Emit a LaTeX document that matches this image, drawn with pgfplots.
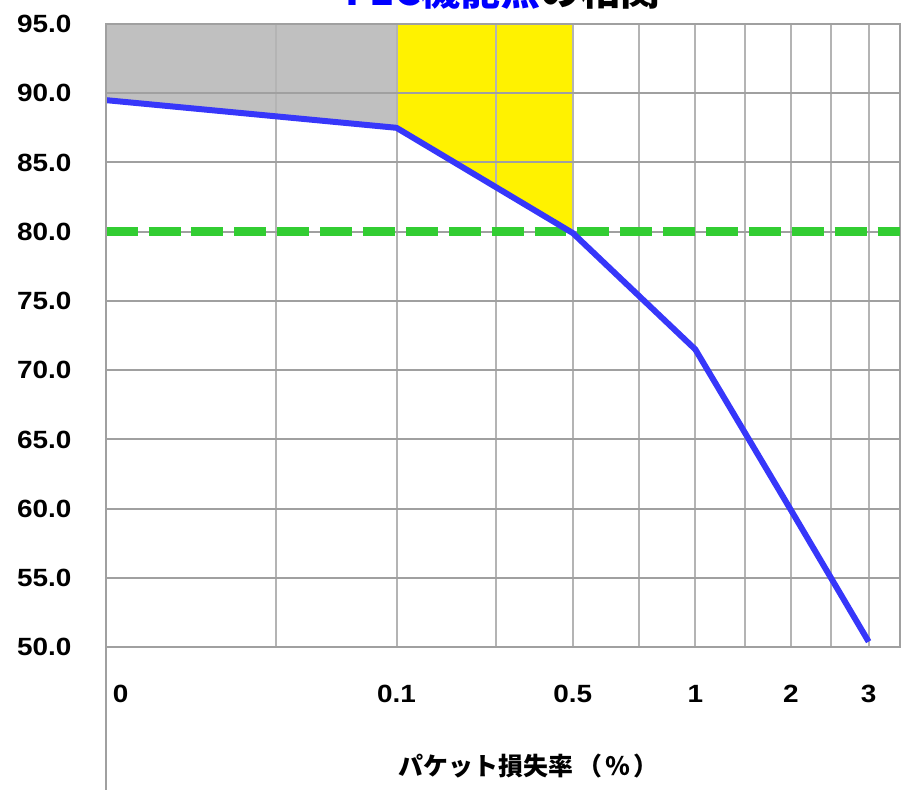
\documentclass[border=0pt]{standalone}
\usepackage{pgfplots}
\pgfplotsset{compat=1.18}
\usepackage{fontspec}
\setmainfont{Liberation Sans}
\newfontfamily\numfont{Liberation Sans}[FakeStretch=1.12]
\newfontfamily\jp{Noto Sans CJK JP}
\definecolor{lineblue}{RGB}{55,55,250}
\definecolor{dgreen}{RGB}{50,205,50}
\definecolor{fillgray}{RGB}{192,192,192}
\definecolor{vgrid}{RGB}{180,180,180}
\definecolor{hgrid}{RGB}{160,160,160}
\pgfplotsset{myaxis/.style={
  at={(53pt,-12pt)}, anchor=north west,
  scale only axis, width=398pt, height=312.5pt,
  xmin=0, xmax=797, ymin=50, ymax=95,
  no markers,
}}
\tikzset{xlab/.style={font=\numfont\bfseries\fontsize{12.5}{15}\selectfont, anchor=base, yshift=-27.5pt, inner sep=0pt}}
\begin{document}
\begin{tikzpicture}
\path (0,0) rectangle (452pt,-396pt);
\begin{scope}
\clip (0,0) rectangle (452pt,-20pt);
\node[overlay, anchor=base, font=\jp\bfseries\fontsize{20}{24}\selectfont, inner sep=0pt] at (252pt,-3pt) {\textcolor{blue}{FEC機能無}の相関};
\end{scope}
\begin{axis}[myaxis, hide axis]
\addplot[fill=fillgray, draw=none] coordinates {(0,95) (0,89.5) (292,87.5) (292,95) (0,95)};
\addplot[fill=yellow, draw=none] coordinates {(292,95) (292,87.5) (469,79.9) (469,95) (292,95)};
\end{axis}
\begin{axis}[myaxis,
  xtick={0,171,292,392,469,535,592,642,688,728,766,797},
  xticklabels={},
  xticklabel style={overlay, inner sep=0pt},
  ytick={50,55,60,65,70,75,80,85,90,95},
  major tick length=0pt,
  grid=major,
  x grid style={vgrid, line width=1pt},
  y grid style={hgrid, line width=1pt},
  axis line style={hgrid, line width=1pt},
  /pgf/number format/fixed,
  /pgf/number format/fixed zerofill,
  /pgf/number format/precision=1,
  /pgf/number format/assume math mode=true,
  yticklabel style={font=\numfont\bfseries\fontsize{12.5}{15}\selectfont, anchor=east, inner sep=0pt, xshift=-17pt},
  clip=false,
]
\addplot[dgreen, line width=4.5pt, dash pattern=on 16pt off 5.5pt] coordinates {(0,80) (797,80)};
\addplot[lineblue, line width=3pt, line join=round] coordinates {(0,89.5) (292,87.5) (469,79.9) (592,71.5) (688,59.9) (766,50.4)};
\node[xlab, xshift=7.5pt] at (axis cs:0,50) {0};
\node[xlab] at (axis cs:292,50) {0.1};
\node[xlab] at (axis cs:469,50) {0.5};
\node[xlab] at (axis cs:592,50) {1};
\node[xlab] at (axis cs:688,50) {2};
\node[xlab] at (axis cs:766,50) {3};
\end{axis}
\draw[hgrid, line width=1pt] (53pt,-12pt) -- (53pt,-396pt);
\node[font=\jp\bfseries\fontsize{12.5}{15}\selectfont] at (265pt,-384pt) {パケット損失率\hspace{2pt}（\hspace{1.5pt}％\hspace{1.5pt}）};
\end{tikzpicture}
\end{document}
